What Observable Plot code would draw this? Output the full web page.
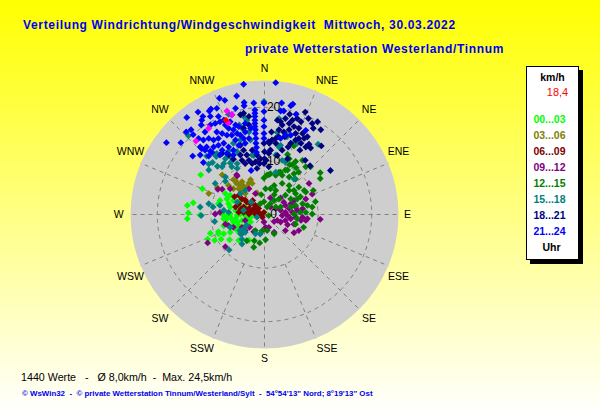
<!DOCTYPE html>
<html><head><meta charset="utf-8">
<script src="https://cdn.jsdelivr.net/npm/d3@7"></script>
<script src="https://cdn.jsdelivr.net/npm/@observablehq/plot@0.6"></script>
<style>
html,body{margin:0;padding:0;}
body{width:600px;height:415px;position:relative;overflow:hidden;background:linear-gradient(#ffff00,#ffffff);font-family:"Liberation Sans",Arial,sans-serif;}
#chart{position:absolute;left:0;top:0;}
.t{position:absolute;white-space:pre;line-height:14px;}
.title{color:#0000ee;font-weight:bold;font-size:12px;letter-spacing:.66px;}
#legend{position:absolute;left:526px;top:66px;width:51px;height:192px;background:#fff;border:1px solid #000;box-shadow:4px 4px 0 #000;}
#legend div{position:absolute;white-space:pre;font-weight:bold;font-size:10.5px;line-height:12px;left:0;width:51px;text-align:center;}
</style></head><body>
<div id="chart"></div>
<div class="t title" style="left:23px;top:18px">Verteilung Windrichtung/Windgeschwindigkeit  Mittwoch, 30.03.2022</div>
<div class="t title" style="left:245px;top:42px">private Wetterstation Westerland/Tinnum</div>
<div id="legend"></div>
<div class="t" style="left:21px;top:370px;font-size:10.7px;color:#000">1440 Werte   -   Ø 8,0km/h  -  Max. 24,5km/h</div>
<div class="t" style="left:22px;top:387px;font-size:7.9px;color:#0000ee;font-weight:bold">© WsWin32  -  © private Wetterstation Tinnum/Westerland/Sylt  -  54°54'13" Nord; 8°19'13" Ost</div>
<script>
// Each series: [east, north] wind components in km/h.
const h00_03 = [[-11.9,7.4],[-11.6,4.8],[-14.4,1.7],[-13.3,2.2],[-14.2,.3],[-14.4,-.8],[-12,-.1],[-10.1,-3.5],[-10.6,-4.6],[-9.3,-4.8],[-8.6,-3.2],[-8.1,-4.6],[-6.5,-4.7],[-4.8,-4.8],[-2.9,-4.8],[-8.6,-3.6],[-7.6,-3.6],[-7,-1.8],[-5.8,-2.1],[-5.1,-3],[-6.4,-3.3],[-8.3,2.6],[-8.6,2],[-7.3,3.9],[-7,2.9],[-6.4,1.4],[-5.4,.8],[-4.5,.1],[-3.6,-.2],[-2.6,-.5],[-1.7,-.2],[-1.1,.4],[-7,-.2],[-6.1,-.8],[-5.1,-1.4],[-4.2,-1.1],[-3.3,-.8],[-2.3,.8],[-3.6,1.4],[-4.8,1.7],[-5.8,2.6],[-7.9,.1],[-7,-.8],[-5.8,-1.4],[-3.6,-2.1],[-2.6,-1.4],[-7.6,-2.1],[-4.8,-2.1],[-5.4,-.8],[-4.5,2.6],[-6.4,3.6],[-5.1,-.2],[-6.4,.1],[-4.2,1.1],[-2.9,.1],[-7.6,-.8],[-6.7,2]];
const h03_06 = [[-10.4,3.9],[-7.9,7.4],[-5.8,6.5],[-5.1,5.8],[-4.2,6.1],[-2.6,6.5],[-2.3,5.8],[-3.3,5.1],[-3.9,4.6],[-4.8,4.8],[-4.2,4.2],[-6.7,5.4],[-8.8,5],[-1.4,4],[-3.6,3.9],[-5.8,4.8],[-4.5,5.3],[-3.9,5.3],[-2.9,5.9],[-5.4,6.3]];
const h06_09 = [[-5.6,3.3],[-4.8,3.6],[-4.2,2.9],[-3.3,2.3],[-2.6,2],[-1.7,1.7],[-1.1,1.1],[-4.8,2],[-3.9,1.4],[-2.9,1.1],[-2,1.1],[-5.4,1.4],[-.8,.1],[-.4,-.5],[-1.7,.1],[-2.9,.1],[-3.9,.4],[-.1,.4],[-4.8,.4],[-2.4,.6],[-3.4,.7],[-1.3,.6],[-4.4,1],[-3.6,2.7],[-2.2,2.6]];
const h09_12 = [[8.3,5.8],[10.4,-.9],[5.5,-3.4],[3.9,-3],[3,-1.4],[2.4,-1.1],[1.1,3.1],[.8,-2.4],[1.8,-1.3],[-2,-3.2],[-3.6,-3],[-7.3,-6],[-10.6,-5.3],[-8.7,4.7],[-7.9,4.7],[-6.4,4.8],[-5.2,7.4],[-1.7,3.9],[-2.9,4.8],[3.9,1.7],[4.9,2],[5.5,2.6],[4.6,1.1],[3.9,.4],[3,.8],[2.1,1.1],[1.1,1.4],[3.3,-.2],[4.3,-.2],[5.2,.4],[6.1,.8],[7.1,1.1],[7.7,2.9],[5.8,1.4],[4.9,-.8],[3.9,-1.1],[5.8,-.5],[6.8,-1.1],[7.7,-1.1],[8,-.8],[7.1,-.5],[3.6,2.3],[3,3.1],[8.9,3.8],[5.5,-1.8],[4.3,-1.9],[6.4,-3],[-9.2,.1],[-3.6,-1.1],[-6.7,-2.1],[-8.3,.4],[-7.3,-1.8],[-5.8,-2.4],[-4.2,-2.4],[-.1,-1.4],[.2,-2.4],[-2.8,-2.4],[-5.1,7.2],[-1,10.2],[1.8,-3.3]];
const h12_15 = [[10.4,7.8],[10.4,6.7],[.8,7.4],[-.1,6.8],[2.7,7.9],[4.3,8.3],[5.5,7.6],[5.8,6.6],[4.6,5.4],[3.3,5.8],[1.8,5.4],[.2,4.8],[2.1,4.5],[1.1,4.8],[-.6,3.7],[1.8,3.7],[2.7,2.9],[4.6,4.5],[5.5,4.5],[6.4,5.1],[7.4,4.5],[7.7,4.2],[9.1,4.5],[9.5,2.4],[3.9,3.6],[6.1,2.9],[7.1,2],[8,1.7],[8.9,1.4],[5.8,3.9],[4.9,2.9],[6.7,3.3],[5.8,1.7],[1.8,2.6],[1.1,2],[2.1,1.4],[3,1.4],[4.9,1.4],[6.7,.4],[7.7,.4],[5.5,.1],[6.1,-.8],[8.9,.1],[7.3,-2.4],[5.8,-1.8],[1.8,-3.6],[.2,-4.7],[-.9,-5.3],[-1.9,-4.9],[-.8,-3.6],[-1.7,-3],[-2,-6.1],[.5,-3],[-.4,-3],[-3.3,-4.9],[.8,-.2],[.5,1.4],[-.1,2.4],[-.8,2],[4.3,11.2],[4.7,9.3],[5.8,9.9],[5.9,8.7],[7.1,10.1],[4.6,10.4],[5.2,9.3],[5.5,12.8],[5.8,13.6],[8.6,8.9],[7.7,8.9],[6.4,7.9],[3.9,8.3],[3,7.9],[2.1,7.3],[1.1,7.6],[.5,7.4],[3.3,7.3],[4.6,7]];
const h15_18 = [[-.1,21.1],[-6.7,18.7],[-14.2,14.7],[-4.2,16.1],[-3.9,18.3],[-3.3,17.6],[-2.6,13.9],[-5.8,13.3],[-6.7,11.8],[-9.2,11.1],[-9.7,9.7],[-8.9,11.4],[-4.5,13.9],[-5.1,11.7],[-6.4,10.8],[-2,11],[-2.9,15.4],[-4.7,16.7],[-10.4,9.4],[-10.4,8.3],[-8.8,9],[-7.9,8.9],[-7.6,9.5],[-7.3,10.4],[-6.4,9.6],[-5.1,8.6],[-6.1,8.9],[-7.3,7],[-5.1,9.5],[-2.3,11.1],[-9,10.8],[-10.8,10.9],[2.7,17.9],[2.4,15.3],[3.9,15.1],[3,12.9],[2.7,12.6],[4.2,14.5],[2.1,11.1],[10,13.1],[3.9,9.8],[3.3,10.1],[2.1,7.9],[5.5,6.6],[6.1,13.3],[-9.2,5.8],[-7.3,6.2],[-12,1.4],[-10.4,2],[-9.6,1.4],[-11.8,-.2],[-9.3,-1.3],[-6.6,-6.6],[-4.2,-5.5],[-4.6,-3],[-4.2,-3.6],[-3.6,-3.3],[-1.7,-3.6],[-.8,-3.6],[-6.7,.4],[-5.1,2.3],[-6.4,-2.4],[-7.6,.8],[-3.9,.8],[-2.5,2.3],[-1.4,-.5],[-4.5,3.9],[-3.6,4.5],[-8.3,1.7],[-3.9,-2.7],[-4.5,-3.6],[-3.3,-2],[-4.2,-4.6]];
const h18_21 = [[7.6,19.1],[8.2,17.9],[8.9,17],[9.9,17.3],[10.5,15.8],[9.1,16.1],[10.6,12.8],[8.3,13.1],[7.7,12.6],[8.6,12.4],[7.6,10.1],[8.5,9.1],[12.3,8.2],[4.7,18.7],[3.9,17.9],[5.2,17.6],[6.1,17.9],[6.8,17.3],[4.6,17],[3.3,16.7],[2.7,15.8],[5.5,16.4],[6.4,16.1],[3.6,15.4],[7.1,15.1],[4.6,15.8],[5.8,15.1],[6.4,14.2],[8,14.5],[7.4,14.2],[5.8,13.9],[4.9,13.3],[4.4,12.6],[6.8,13.3],[6.6,12],[3.8,14.5],[2.6,14.5],[1.4,13.9],[.9,13.3],[2.1,13.3],[.8,11.4],[1.3,15.4],[2.4,17.6],[1.1,12],[2.4,11],[3.3,12],[4.3,10.4],[.3,10.1],[0,11.7],[-.1,13.3],[0,10.4],[-.1,9.5],[.8,8.9],[-3.9,18.9],[-4.5,18.6],[-2.9,18.3],[-2.9,16.7],[-3.9,16.1],[-3.9,12],[-4.5,11.1],[-3.3,11.1],[-2.3,12],[-1.4,11.1],[-2.9,10.1],[-4.2,10.1],[-5.8,10.3],[-6.7,11.1],[-7.9,11.4],[-4.5,12.9],[-1.7,9.8],[-.8,10.4],[-3.6,9.5],[1.1,12],[.8,13.6],[2.1,14.2],[3,17.3],[-2.3,9.5],[-1.4,8.6],[-.9,9.5]];
const h21_24 = [[-3.9,24.3],[2.1,24.6],[-5.2,22.1],[-8.4,21.7],[-7.4,21.3],[-3.8,20.9],[-3.8,20.3],[-2,20.8],[-.1,20.8],[-12.4,19.1],[-10,19.7],[-10.3,19.3],[-8.9,19.8],[-5.4,19.8],[-14.5,18.1],[-11.5,18.3],[-11.7,17.6],[-10.1,18.3],[-8.6,18.3],[-7.6,17.6],[-6.1,18.6],[-1.8,19.5],[-1.8,18.9],[-1.8,18.3],[-1.8,17.6],[-1.8,17],[-1.8,16.4],[-1.7,15.8],[-1.7,15.1],[-1.6,14.2],[-1.6,13.3],[-1.5,12.5],[-1.5,11.6],[-.1,19.2],[-.1,17.6],[-.1,16.4],[-.1,15.1],[-.1,14.2],[-11.8,16.7],[-12.3,14.2],[-11.1,15.4],[-10.1,16.7],[-9.2,17],[-8.3,17.3],[-7.3,16.7],[-6.4,17.3],[-5.4,16.7],[-6.7,16.1],[-5.8,15.8],[-4.8,16.4],[-5.1,15.1],[-6.1,14.8],[-4.5,14.8],[-3.6,15.4],[-3.9,14.2],[-5.4,13.9],[-7,14.8],[-7.9,15.1],[-8.9,15.4],[-8.6,14.2],[-9.5,13.9],[-10.4,14.2],[-11.4,13.9],[-7.6,13.3],[-8.6,12.9],[-9.5,12.6],[-10.8,12.6],[-11.7,12.3],[-11.1,12],[-12,12.6],[-10.1,11.8],[-7.9,12],[-6.7,12.6],[-5.8,12],[-4.8,12.9],[-3.6,13.3],[-2.9,14.2],[-2.6,16.1],[-3.6,17],[-14.6,15.4],[-13.7,15.8],[-13.3,14.9],[-18.3,13.4],[-15.6,13.4],[-13.4,10.9],[-12,11.1],[-10.4,10.9],[-11.4,9.7],[-9.8,11.6],[-7,11.4],[-5.8,11.1],[-8.3,11.1],[5.3,20.6],[4.9,20.3],[3.6,19.3],[5.9,18.7],[7.7,15.7],[3,14.2],[3.9,14.8],[4.9,14.8],[3.2,20.8],[3,19.3],[-2.5,8.2]];
const accent = [[-7,19.3],[-10.4,16.1],[-12.8,13.7],[-6.8,17.1],[-6.1,18.6]];
const current = [[-7.2,17.6]];

const seriesData = [h00_03,h03_06,h06_09,h09_12,h12_15,h15_18,h18_21,h21_24];
const seriesLabels = ["00...03","03...06","06...09","09...12","12...15","15...18","18...21","21...24"];
const seriesColors = ["#00ff00","#808000","#800000","#800080","#008000","#008080","#000080","#0000ff"];

const discRadius = [25];
const rings = [10,20];
const ringLabels = ["20","10","0"];
const ringLabelValues = [20,10,0];
const compass = ["N","NNE","NE","ENE","E","ESE","SE","SSE","S","SSW","SW","WSW","W","WNW","NW","NNW"];
const compassRadius = [27.2,27.6,27.6,27.6,26.7,27.6,27.6,27.6,26.9,27.6,27.6,27.6,27.2,27.6,27.6,27.6];
const compassAngle = [0,25,45,65,90,115,135,155,180,205,225,245,270,295,315,335];
const isMajor = [1,0,1,0,1,0,1,0,1,0,1,0,1,0,1,0];

const rad = i => i * Math.PI / 8;
const deg = a => a * Math.PI / 180;
const compassRows = compass.map((name,i)=>({
  name, e:compassRadius[i]*Math.sin(deg(compassAngle[i])), n:compassRadius[i]*Math.cos(deg(compassAngle[i]))}));
const spokes = compass.map((name,i)=>{
  const r0 = isMajor[i] ? 0 : rings[0];
  return {e1:r0*Math.sin(rad(i)), n1:r0*Math.cos(rad(i)), e2:discRadius[0]*Math.sin(rad(i)), n2:discRadius[0]*Math.cos(rad(i))};
});
const ox = ()=>0;

const chart = Plot.plot({
  width:600, height:415, margin:0,
  style:{background:"transparent",overflow:"visible"},
  x:{domain:[-25,25],range:[130,398],axis:null},
  y:{domain:[-25,25],range:[348,80],axis:null},
  r:{type:"linear",domain:[0,25],range:[0,134]},
  marks:[
    Plot.dot(discRadius,{x:ox,y:ox,r:d=>d,fill:"#cecece",stroke:"none"}),
    Plot.dot(rings,{x:ox,y:ox,r:d=>d,fill:"none",stroke:"#808080",strokeWidth:1,strokeDasharray:"4 4"}),
    Plot.link(spokes,{x1:"e1",y1:"n1",x2:"e2",y2:"n2",stroke:"#808080",strokeWidth:1,strokeDasharray:"4 4"}),
    ...seriesData.map((pts,i)=>Plot.dot(pts,{x:d=>d[0],y:d=>d[1],symbol:"diamond2",r:3.1,fill:seriesColors[i],stroke:"none"})),
    Plot.dot(accent,{x:d=>d[0],y:d=>d[1],symbol:"diamond2",r:3.1,fill:"#ff00ff",stroke:"none"}),
    Plot.dot(current,{x:d=>d[0],y:d=>d[1],symbol:"diamond2",r:3.1,fill:"#ff0000",stroke:"none"}),
    Plot.text(ringLabels,{x:(d,i)=>1.7,y:(d,i)=>ringLabelValues[i],text:d=>d,fontSize:12,fill:"#000",fontFamily:"Liberation Sans"}),
    Plot.text(compassRows,{x:"e",y:"n",text:"name",fontSize:10.5,fill:"#000",fontFamily:"Liberation Sans"})
  ]
});
document.getElementById("chart").append(chart);

const legend = document.getElementById("legend");
function row(text,top,color,extra){
  const d=document.createElement("div");
  d.textContent=text; d.style.top=top+"px"; d.style.color=color;
  if(extra) Object.assign(d.style,extra);
  legend.append(d);
}
row("km/h",4,"#000");
row("18,4",19,"#ff0000",{fontWeight:"normal",fontSize:"11px",left:"5px"});
seriesLabels.forEach((s,i)=>row(s,46+16*i,seriesColors[i],{left:"-3px"}));
row("Uhr",174,"#000",{left:"-1px"});
</script>
</body></html>
